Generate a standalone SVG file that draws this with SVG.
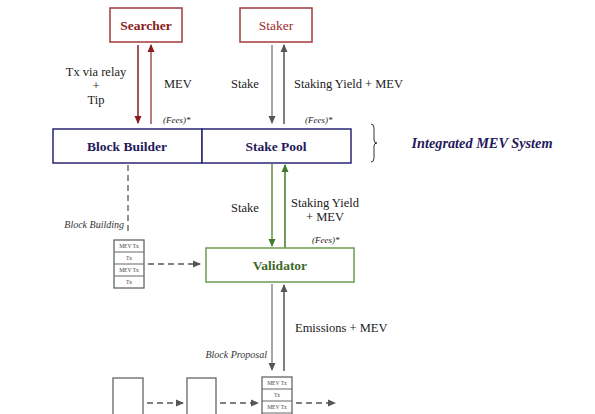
<svg xmlns="http://www.w3.org/2000/svg" width="595" height="414" viewBox="0 0 595 414" font-family="Liberation Serif, DejaVu Serif, serif">
<style>
text{font-family:"Liberation Serif","DejaVu Serif","Noto Serif",serif;fill:#222}
.lbl{font-size:12.5px}
.fees{font-size:9px;font-style:italic}
.cap{font-size:10px;font-style:italic;fill:#333}
.tx{font-size:5.5px;fill:#444}
.red{fill:#fff;stroke:#a03a3a;stroke-width:1.5}
.navy{fill:#fff;stroke:#2a2470;stroke-width:1.5}
.green{fill:#fff;stroke:#6a9a50;stroke-width:1.5}
.blk{fill:#fff;stroke:#666;stroke-width:1.3}
.dash{stroke:#555;stroke-width:1.3;stroke-dasharray:6,4;fill:none}
</style>
<defs>
<marker id="ar" markerWidth="8" markerHeight="8" refX="7" refY="4" orient="auto" markerUnits="userSpaceOnUse"><path d="M0,0.5 L8,4 L0,7.5 Z" fill="#8b1a1a"/></marker>
<marker id="ag" markerWidth="8" markerHeight="8" refX="7" refY="4" orient="auto" markerUnits="userSpaceOnUse"><path d="M0,0.5 L8,4 L0,7.5 Z" fill="#555"/></marker>
<marker id="agr" markerWidth="8" markerHeight="8" refX="7" refY="4" orient="auto" markerUnits="userSpaceOnUse"><path d="M0,0.5 L8,4 L0,7.5 Z" fill="#3f7a2a"/></marker>
</defs>

<g id="connectors">
<line x1="138" y1="45" x2="138" y2="123" stroke="#8b1a1a" stroke-width="1.5" marker-end="url(#ar)"/>
<line x1="151" y1="124" x2="151" y2="45" stroke="#a05050" stroke-width="1.5" marker-end="url(#ar)"/>
<line x1="272" y1="45" x2="272" y2="123" stroke="#888" stroke-width="1.5" marker-end="url(#ag)"/>
<line x1="284" y1="124" x2="284" y2="45" stroke="#555" stroke-width="1.5" marker-end="url(#ag)"/>
<line x1="272" y1="164" x2="272" y2="246" stroke="#5f8f45" stroke-width="1.5" marker-end="url(#agr)"/>
<line x1="285" y1="248" x2="285" y2="165" stroke="#3f7a2a" stroke-width="1.5" marker-end="url(#agr)"/>
<line x1="272" y1="284" x2="272" y2="370" stroke="#888" stroke-width="1.5" marker-end="url(#ag)"/>
<line x1="284" y1="371" x2="284" y2="285" stroke="#555" stroke-width="1.5" marker-end="url(#ag)"/>
<line class="dash" x1="128" y1="165" x2="128" y2="233"/>
<line class="dash" x1="148" y1="264" x2="200" y2="264" marker-end="url(#ag)"/>
<line class="dash" x1="147" y1="403" x2="183" y2="403" marker-end="url(#ag)"/>
<line class="dash" x1="220" y1="403" x2="258" y2="403" marker-end="url(#ag)"/>
<line class="dash" x1="296" y1="403" x2="335" y2="403" marker-end="url(#ag)"/>
</g>

<g id="searcher">
<rect class="red" x="110" y="8" width="72" height="34"/>
<text x="146" y="30" text-anchor="middle" font-size="13.5" font-weight="bold" style="fill:#8b1a1a">Searcher</text>
</g>
<g id="staker">
<rect class="red" x="240" y="8" width="72" height="34"/>
<text x="276" y="30" text-anchor="middle" font-size="13.5" style="fill:#9b2c2c">Staker</text>
</g>

<g id="labels-top">
<text class="lbl" x="96" y="76" text-anchor="middle">Tx via relay</text>
<text class="lbl" x="96" y="90" text-anchor="middle">+</text>
<text class="lbl" x="96" y="104" text-anchor="middle">Tip</text>
<text class="lbl" x="164" y="88">MEV</text>
<text class="lbl" x="231" y="88">Stake</text>
<text class="lbl" x="294" y="88">Staking Yield + MEV</text>
<text class="fees" x="163" y="123">(Fees)*</text>
<text class="fees" x="305" y="123">(Fees)*</text>
</g>

<g id="block-builder">
<rect class="navy" x="53" y="129" width="149" height="34"/>
<text x="127" y="151" text-anchor="middle" font-size="13.5" font-weight="bold" style="fill:#1f1a5c">Block Builder</text>
</g>
<g id="stake-pool">
<rect class="navy" x="202" y="129" width="149" height="34"/>
<text x="276" y="151" text-anchor="middle" font-size="13.5" font-weight="bold" style="fill:#1f1a5c">Stake Pool</text>
</g>

<g id="integrated-mev-system">
<path d="M371,124 Q374,124 374,128 L374,140 Q374,143 377,143 Q374,143 374,146 L374,158 Q374,162 371,162" fill="none" stroke="#333" stroke-width="1"/>
<text x="482" y="148" text-anchor="middle" font-size="14.3" font-weight="bold" font-style="italic" style="fill:#1f1a5c">Integrated MEV System</text>
</g>

<g id="labels-mid">
<text class="cap" x="124" y="228" text-anchor="end">Block Building</text>
<text class="lbl" x="231" y="212">Stake</text>
<text class="lbl" x="325" y="207" text-anchor="middle">Staking Yield</text>
<text class="lbl" x="325" y="221" text-anchor="middle">+ MEV</text>
<text class="fees" x="312" y="243">(Fees)*</text>
</g>

<g id="block-stack">
<rect class="blk" x="114" y="240" width="30" height="48"/>
<line x1="114" y1="252" x2="144" y2="252" stroke="#666" stroke-width="1"/>
<line x1="114" y1="264" x2="144" y2="264" stroke="#666" stroke-width="1"/>
<line x1="114" y1="276" x2="144" y2="276" stroke="#666" stroke-width="1"/>
<text class="tx" x="129" y="248" text-anchor="middle">MEV Tx</text>
<text class="tx" x="129" y="260" text-anchor="middle">Tx</text>
<text class="tx" x="129" y="272" text-anchor="middle">MEV Tx</text>
<text class="tx" x="129" y="284" text-anchor="middle">Tx</text>
</g>

<g id="validator">
<rect class="green" x="206" y="248" width="148" height="34"/>
<text x="280" y="270" text-anchor="middle" font-size="13.5" font-weight="bold" style="fill:#3c6a2a">Validator</text>
</g>

<g id="labels-bottom">
<text class="lbl" x="295" y="332">Emissions + MEV</text>
<text class="cap" x="267" y="358" text-anchor="end">Block Proposal</text>
</g>

<g id="block-1">
<rect class="blk" x="113" y="378" width="30" height="44"/>
</g>
<g id="block-2">
<rect class="blk" x="187" y="378" width="29" height="44"/>
</g>
<g id="block-3">
<rect class="blk" x="262" y="377" width="30" height="48"/>
<line x1="262" y1="389" x2="292" y2="389" stroke="#666" stroke-width="1"/>
<line x1="262" y1="401" x2="292" y2="401" stroke="#666" stroke-width="1"/>
<line x1="262" y1="413" x2="292" y2="413" stroke="#666" stroke-width="1"/>
<text class="tx" x="277" y="385" text-anchor="middle">MEV Tx</text>
<text class="tx" x="277" y="397" text-anchor="middle">Tx</text>
<text class="tx" x="277" y="409" text-anchor="middle">MEV Tx</text>
</g>
</svg>
